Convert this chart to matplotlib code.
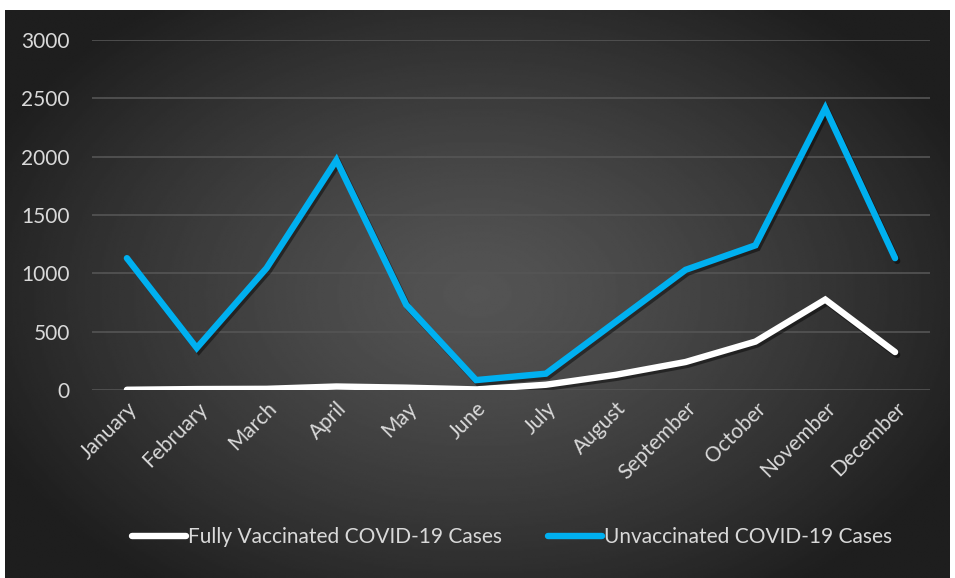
import numpy as np
import matplotlib
matplotlib.use('Agg')
import matplotlib.pyplot as plt
import matplotlib.patheffects as pe

# Monthly case counts
months = ['January', 'February', 'March', 'April', 'May', 'June', 'July',
          'August', 'September', 'October', 'November', 'December']
vaccinated = [2, 8, 10, 30, 20, 5, 45, 130, 240, 415, 775, 325]
unvaccinated = [1130, 360, 1045, 1970, 730, 85, 140, 585, 1030, 1240, 2415, 1130]

plt.rcParams['font.family'] = ['Lato', 'DejaVu Sans']

W, H = 955, 578
fig = plt.figure(figsize=(W / 100, H / 100), dpi=100, facecolor='white')

# dark radial gradient background panel
bg = fig.add_axes([5 / W, 0, 945 / W, 1 - 10 / H])
yy, xx = np.mgrid[0:1:300j, 0:1:500j]
r = np.sqrt(((xx - 0.5) / 0.75) ** 2 + ((yy - 0.5) / 0.85) ** 2)
shade = 0.33 - 0.21 * np.clip(r / 0.75, 0, 1) ** 1.3
bg.imshow(shade, cmap='gray', vmin=0, vmax=1, aspect='auto',
          extent=[0, 1, 0, 1], interpolation='bilinear')
bg.axis('off')

ax = fig.add_axes([92 / W, 1 - 390 / H, (930 - 92) / W, 350 / H])
ax.patch.set_alpha(0)
x = np.arange(len(months))

shadow = [pe.SimpleLineShadow(offset=(1.5, -2), shadow_color='black', alpha=0.45),
          pe.Normal()]
ax.plot(x, vaccinated, color='white', lw=4.6, solid_capstyle='round',
        solid_joinstyle='miter', label='Fully Vaccinated COVID-19 Cases',
        path_effects=shadow, zorder=3)
ax.plot(x, unvaccinated, color='#00b0f0', lw=4.6, solid_capstyle='round',
        solid_joinstyle='miter', label='Unvaccinated COVID-19 Cases',
        path_effects=shadow, zorder=3)

ax.set_xlim(-0.5, 11.5)
ax.set_ylim(0, 3000)
ax.set_yticks(range(0, 3001, 500))
ax.yaxis.grid(True, color='#555555', lw=1.2)
ax.set_axisbelow(True)
for s in ax.spines.values():
    s.set_visible(False)
ax.tick_params(length=0, colors='#d9d9d9', labelsize=15)
ax.tick_params(axis='y', pad=16)
ax.tick_params(axis='x', pad=6)
ax.set_xticks(x)
ax.set_xticklabels(months, rotation=45, ha='right', rotation_mode='anchor')

leg = fig.legend(loc='center', bbox_to_anchor=(0.536, 1 - 537 / H), ncol=2,
                 frameon=False, fontsize=15, labelcolor='#d9d9d9',
                 handlelength=2.6, handletextpad=0.1, columnspacing=2.2)
for h in leg.get_lines():
    h.set_path_effects([])

fig.savefig('out.png', dpi=100, facecolor='white')
